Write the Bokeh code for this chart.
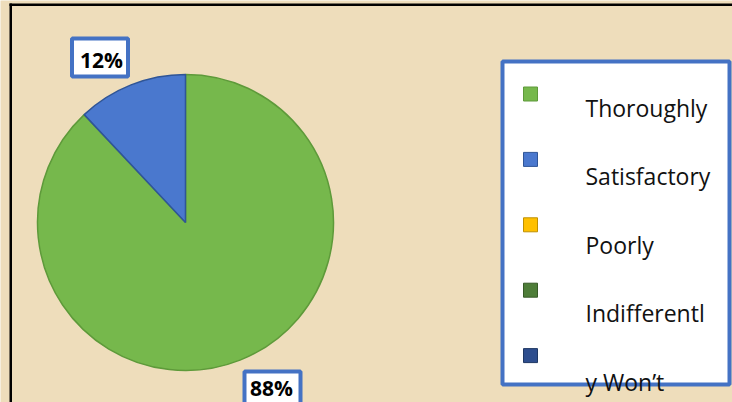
import math
from bokeh.plotting import figure
from bokeh.models import ColumnDataSource, Range1d
from bokeh.core.properties import value
from bokeh.embed import file_html
from bokeh.resources import INLINE

# ---- data ----
categories = ["Thoroughly", "Satisfactory", "Poorly", "Indifferently", "Won't"]
legend_labels = ["Thoroughly", "Satisfactory", "Poorly", "Indifferentl", "y Won\u2019t"]
shares = [88, 12, 0, 0, 0]
colors = ["#76B84C", "#4A78CE", "#FFC000", "#4E7D38", "#2E4E8E"]
edge_colors = ["#5E9A3A", "#2F5597", "#BF9000", "#375A27", "#1F3864"]

# ---- layout (reference pixel coordinates) ----
W, H = 732, 402
def Y(y):
    return H - y

CX, CY, R = 185, Y(222), 148
BG = "#EEDDBB"
BLUE = "#4472C4"

p = figure(width=W, height=H, output_backend="svg", toolbar_location=None,
           x_range=Range1d(0, W), y_range=Range1d(0, H),
           x_axis_type=None, y_axis_type=None, min_border=0)
p.grid.visible = False
p.background_fill_color = BG
p.border_fill_color = BG
p.outline_line_color = None

# frame lines (black)
p.quad(left=[9], right=[11.5], bottom=[Y(402)], top=[Y(3)], fill_color="black", line_color=None)
p.quad(left=[9], right=[732], bottom=[Y(5.5)], top=[Y(3)], fill_color="black", line_color=None)

# ---- pie ----
total = float(sum(shares))
starts, ends, cols, ecols = [], [], [], []
cum = 0.0
for s, c, e in zip(shares, colors, edge_colors):
    if s <= 0:
        continue
    a0 = math.radians(90 - cum / total * 360)
    a1 = math.radians(90 - (cum + s) / total * 360)
    starts.append(a0); ends.append(a1); cols.append(c); ecols.append(e)
    cum += s
pie = ColumnDataSource(dict(x=[CX] * len(starts), y=[CY] * len(starts), s=starts, e=ends, c=cols, ec=ecols))
p.wedge(x="x", y="y", radius=R, start_angle="s", end_angle="e", direction="clock",
        fill_color="c", line_color="ec", line_width=1.5, source=pie)

# ---- data labels ----
pct = [f"{s}%" for s in shares if s > 0]
lab_x = [272, 99.5]
lab_y = [Y(388), Y(57)]
lab_h = [34, 38]
p.rect(x=lab_x, y=lab_y, width=56, height=lab_h, fill_color="white", line_color=BLUE, line_width=4)
p.text(x=[lab_x[0] - 1, lab_x[1] + 1.5], y=[Y(387), Y(59)], text=pct, text_font=value("Open Sans"),
       text_font_style="bold", text_font_size="21px", text_align="center",
       text_baseline="middle", text_color="black")

# ---- legend ----
p.rect(x=[615.5], y=[Y(222.5)], width=227, height=323, fill_color="white", line_color=BLUE, line_width=4)
n = len(categories)
sq_y = [Y(93.5 + i * 65.4) for i in range(n)]
tx_y = [Y(107 + i * 68.5) for i in range(n)]
p.rect(x=[530] * n, y=sq_y, width=14, height=14, fill_color=colors, line_color=edge_colors, line_width=1)
p.text(x=[585] * n, y=tx_y, text=legend_labels, text_font=value("Open Sans"),
       text_font_size="23px", text_align="left", text_baseline="alphabetic", text_color="#111111")

open("out.html", "w").write(file_html(p, INLINE))
